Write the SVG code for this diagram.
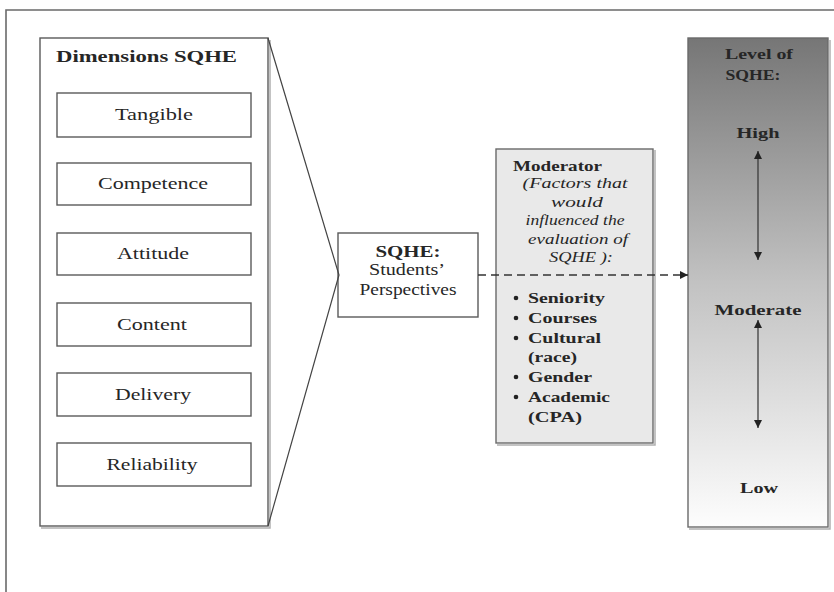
<svg xmlns="http://www.w3.org/2000/svg" width="834" height="592" viewBox="0 0 834 592">
<defs>
<style>
.box{fill:#fff;stroke:#5a5a5a;stroke-width:1.4}
.shadow{fill:none;stroke:#b0b0b0;stroke-width:1.5}
.t{font-family:"Liberation Serif","Times New Roman",serif;fill:#262626}
.lab{font-size:17px;text-anchor:middle}
.b{font-weight:bold}
.i{font-style:italic}
.conn{stroke:#333;stroke-width:1.2;fill:none}
</style>
<linearGradient id="lvl" x1="0" y1="0" x2="0" y2="1">
<stop offset="0" stop-color="#767676"/>
<stop offset="0.5" stop-color="#c2c2c2"/>
<stop offset="1" stop-color="#fdfdfd"/>
</linearGradient>
<marker id="ah" viewBox="0 0 10 10" refX="10" refY="5" markerWidth="8" markerHeight="8" markerUnits="userSpaceOnUse" orient="auto-start-reverse">
<path d="M0,0 L10,5 L0,10 z" fill="#222"/>
</marker>
</defs>
<rect width="834" height="592" fill="#fff"/>
<path d="M6,592 V10 H834" fill="none" stroke="#6a6a6a" stroke-width="1.6"/>

<g id="dimensions">
<path class="shadow" d="M41,528 H270 V40"/>
<rect class="box" x="40" y="38" width="228" height="488"/>
<text class="t b" x="56" y="62" font-size="17" textLength="181" lengthAdjust="spacingAndGlyphs">Dimensions SQHE</text>
</g>
<g id="tangible">
<rect class="box" x="57" y="93" width="194" height="44"/>
<text class="t lab" x="154" y="120" textLength="78" lengthAdjust="spacingAndGlyphs">Tangible</text>
</g>
<g id="competence">
<rect class="box" x="57" y="163" width="194" height="42"/>
<text class="t lab" x="153" y="189" textLength="110" lengthAdjust="spacingAndGlyphs">Competence</text>
</g>
<g id="attitude">
<rect class="box" x="57" y="233" width="194" height="42"/>
<text class="t lab" x="153" y="259" textLength="72" lengthAdjust="spacingAndGlyphs">Attitude</text>
</g>
<g id="content">
<rect class="box" x="57" y="303" width="194" height="43"/>
<text class="t lab" x="152" y="330" textLength="70" lengthAdjust="spacingAndGlyphs">Content</text>
</g>
<g id="delivery">
<rect class="box" x="57" y="373" width="194" height="43"/>
<text class="t lab" x="153" y="400" textLength="76" lengthAdjust="spacingAndGlyphs">Delivery</text>
</g>
<g id="reliability">
<rect class="box" x="57" y="443" width="194" height="43"/>
<text class="t lab" x="152" y="470" textLength="91" lengthAdjust="spacingAndGlyphs">Reliability</text>
</g>

<g id="sqhe">
<rect class="box" x="338" y="233" width="140" height="84"/>
<text class="t b" x="408" y="257" font-size="16" text-anchor="middle" textLength="65" lengthAdjust="spacingAndGlyphs">SQHE:</text>
<text class="t" x="407" y="275" font-size="16" text-anchor="middle" textLength="76" lengthAdjust="spacingAndGlyphs">Students’</text>
<text class="t" x="408" y="295" font-size="16" text-anchor="middle" textLength="97" lengthAdjust="spacingAndGlyphs">Perspectives</text>
</g>

<g id="moderator">
<path class="shadow" d="M497,445 H655 V150"/>
<rect x="496" y="149" width="157" height="294" fill="#e9e9e9" stroke="#6a6a6a" stroke-width="1.4"/>
<text class="t b" x="513" y="171" font-size="15" textLength="89" lengthAdjust="spacingAndGlyphs">Moderator</text>
<g class="t i" font-size="15" text-anchor="middle">
<text x="575" y="188" textLength="105" lengthAdjust="spacingAndGlyphs">(Factors that</text>
<text x="577" y="207" textLength="52" lengthAdjust="spacingAndGlyphs">would</text>
<text x="575" y="225" textLength="99" lengthAdjust="spacingAndGlyphs">influenced the</text>
<text x="578" y="244" textLength="100" lengthAdjust="spacingAndGlyphs">evaluation of</text>
<text x="581" y="262" textLength="64" lengthAdjust="spacingAndGlyphs">SQHE ):</text>
</g>
<g fill="#222">
<circle cx="516" cy="298" r="2.3"/>
<circle cx="516" cy="318" r="2.3"/>
<circle cx="516" cy="338" r="2.3"/>
<circle cx="516" cy="377" r="2.3"/>
<circle cx="516" cy="397" r="2.3"/>
</g>
<g class="t b" font-size="15">
<text x="528" y="303" textLength="77" lengthAdjust="spacingAndGlyphs">Seniority</text>
<text x="528" y="323" textLength="69" lengthAdjust="spacingAndGlyphs">Courses</text>
<text x="528" y="343" textLength="73" lengthAdjust="spacingAndGlyphs">Cultural</text>
<text x="528" y="362" textLength="49" lengthAdjust="spacingAndGlyphs">(race)</text>
<text x="528" y="382" textLength="64" lengthAdjust="spacingAndGlyphs">Gender</text>
<text x="528" y="402" textLength="82" lengthAdjust="spacingAndGlyphs">Academic</text>
<text x="528" y="422" textLength="54" lengthAdjust="spacingAndGlyphs">(CPA)</text>
</g>
</g>

<g id="level">
<path class="shadow" d="M689,529 H830 V40"/>
<rect x="688" y="38" width="140" height="489" fill="url(#lvl)" stroke="#6a6a6a" stroke-width="1.4"/>
<g class="t b" text-anchor="middle" fill="#1a1a1a">
<text x="759" y="59" font-size="14" textLength="68" lengthAdjust="spacingAndGlyphs">Level of</text>
<text x="753" y="80" font-size="14" textLength="55" lengthAdjust="spacingAndGlyphs">SQHE:</text>
<text x="758" y="138" font-size="15" textLength="43" lengthAdjust="spacingAndGlyphs">High</text>
<text x="758" y="315" font-size="15" textLength="87" lengthAdjust="spacingAndGlyphs">Moderate</text>
<text x="759" y="493" font-size="15" textLength="38" lengthAdjust="spacingAndGlyphs">Low</text>
</g>
<line class="conn" x1="758" y1="151" x2="758" y2="260" marker-start="url(#ah)" marker-end="url(#ah)"/>
<line class="conn" x1="758" y1="320" x2="758" y2="428" marker-start="url(#ah)" marker-end="url(#ah)"/>
</g>

<g id="connectors">
<path d="M268,38 L339,275 L268,526" fill="none" stroke="#444" stroke-width="1.2"/>
<line x1="478" y1="275" x2="688" y2="275" stroke="#333" stroke-width="1.3" stroke-dasharray="8,5" marker-end="url(#ah)"/>
</g>
</svg>
